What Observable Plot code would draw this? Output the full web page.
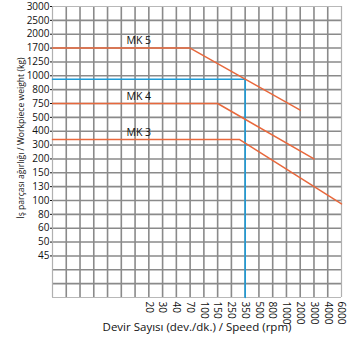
<!DOCTYPE html>
<html><head><meta charset="utf-8">
<script src="https://cdn.jsdelivr.net/npm/d3@7"></script>
<script src="https://cdn.jsdelivr.net/npm/@observablehq/plot@0.6"></script>
<style>body{margin:0;background:#fff}svg{font-family:"Open Sans",sans-serif}</style>
</head><body><div id="chart"></div>
<script>
// Tick labels (x: speed rpm, y: workpiece weight kg)
const speedTicks = [20, 30, 40, 70, 100, 150, 250, 350, 500, 800, 1000, 2000, 3000, 4000, 6000];
const weightTicks = [45, 50, 60, 80, 100, 130, 150, 200, 300, 400, 500, 750, 800, 1000, 1250, 1700, 2000, 2500, 3000];
const blankCols = 7;   // unlabeled grid columns left of "20"
const blankRows = 3;   // unlabeled grid rows below "45"

// Series (speed rpm, weight kg); speed 0 = left edge of the grid
const seriesNames = ["MK 5", "MK 4", "MK 3"];
const mk5Speed = [0, 70, 2000], mk5Weight = [1700, 1700, 630];
const mk4Speed = [0, 150, 3000], mk4Weight = [750, 750, 200];
const mk3Speed = [0, 310, 6000], mk3Weight = [340, 340, 95];
const limitSpeed = [0, 350, 350], limitWeight = [950, 950, 0];

const xTitle = "Devir Sayısı (dev./dk.) / Speed (rpm)";
const yTitle = "İş parçası ağırlığı / Workpiece weight (kg)";

// piecewise mapping of values onto the equally spaced grid
const xIdx = d3.scaleLinear().domain([0, ...speedTicks]).range([0, ...speedTicks.map((_, i) => blankCols + i)]);
const yIdx = d3.scaleLinear().domain([0, ...weightTicks]).range([0, ...weightTicks.map((_, i) => blankRows + i)]);
const nCols = blankCols + speedTicks.length - 1;
const nRows = blankRows + weightTicks.length - 1;

const mkSeries = [[mk5Speed, mk5Weight], [mk4Speed, mk4Weight], [mk3Speed, mk3Weight]];
const lineData = mkSeries.flatMap(([s, w], k) => s.map((v, i) => ({name: seriesNames[k], x: xIdx(v), y: yIdx(w[i])})));
const limitData = limitSpeed.map((v, i) => ({x: xIdx(v), y: yIdx(limitWeight[i])}));
const labelData = mkSeries.map(([s, w], k) => ({name: seriesNames[k], x: xIdx(s[0]), y: yIdx(w[0])}));

const gridX = d3.range(0, nCols + 1);
const gridY = d3.range(0, nRows + 1);
const inner = (n) => (d) => d > 0 && d < n;

const chart = Plot.plot({
  width: 349, height: 344,
  marginLeft: 52, marginRight: 8, marginTop: 6, marginBottom: 47,
  style: {fontFamily: "Open Sans, sans-serif", fontSize: "9.5px", color: "#111"},
  x: {type: "linear", domain: [0, nCols]},
  y: {type: "linear", domain: [0, nRows]},
  marks: [
    Plot.ruleX(gridX.filter(inner(nCols)), {stroke: "#8a8a8a", strokeWidth: 1.6}),
    Plot.ruleY(gridY.filter(inner(nRows)), {stroke: "#8a8a8a", strokeWidth: 1.6}),
    Plot.ruleX([0, nCols], {stroke: "#b0b0b0", strokeWidth: 1.2}),
    Plot.ruleY([0, nRows], {stroke: "#b8b8b8", strokeWidth: 1.2}),
    Plot.line(limitData, {x: "x", y: "y", stroke: "#1e9bd7", strokeWidth: 1.6}),
    Plot.line(lineData, {x: "x", y: "y", z: "name", stroke: "#e8683c", strokeWidth: 1.5}),
    Plot.text(labelData, {x: "x", y: "y", text: "name", textAnchor: "start", dx: 74, dy: -7, fontSize: 10.5, fill: "#111"}),
    Plot.axisY({ticks: weightTicks.map(yIdx), tickFormat: (d) => String(weightTicks[Math.round(d) - blankRows]), tickSize: 2, tickPadding: 1, label: null, fontSize: 10}),
    Plot.axisX({ticks: speedTicks.map(xIdx), tickFormat: (d) => String(speedTicks[Math.round(d) - blankCols]), tickRotate: 90, tickSize: 0, tickPadding: 4, label: null, fontSize: 10}),
    Plot.text([xTitle], {frameAnchor: "bottom", lineAnchor: "middle", dy: 30, fontSize: 11.5, fill: "#111"}),
    Plot.text([yTitle], {frameAnchor: "left", textAnchor: "middle", lineAnchor: "middle", rotate: -90, dx: -31, dy: -14, fontSize: 8.6, fill: "#111"})
  ]
});
document.getElementById("chart").appendChild(chart);
</script>
</body></html>
